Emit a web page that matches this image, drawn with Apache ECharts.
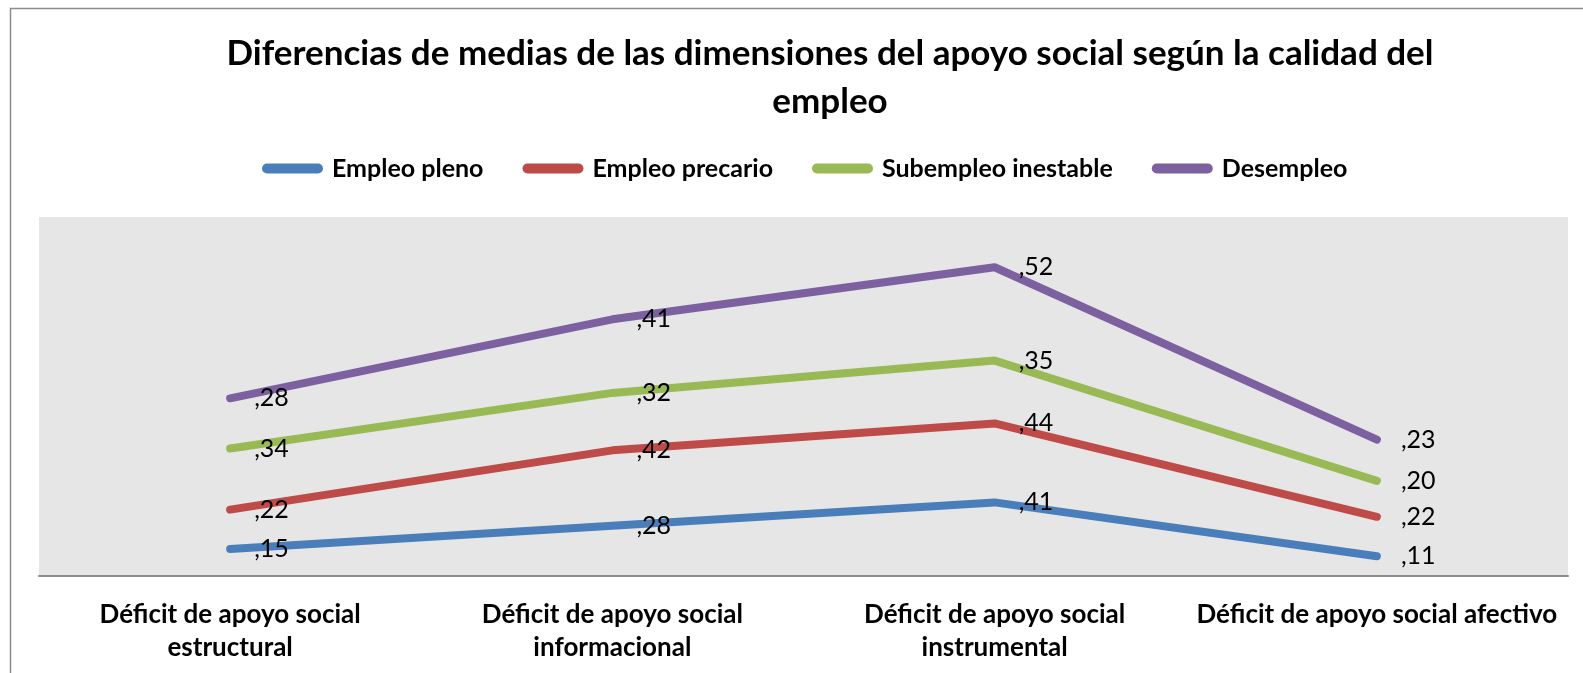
<!DOCTYPE html>
<html>
<head>
<meta charset="utf-8">
<script src="https://cdn.jsdelivr.net/npm/echarts@6/dist/echarts.min.js"></script>
<style>
html,body{margin:0;padding:0;background:#fff;}
#chart{width:1583px;height:673px;}
</style>
</head>
<body>
<div id="chart"></div>
<script>
const titleText = 'Diferencias de medias de las dimensiones del apoyo social según la calidad del\nempleo';
const categories = [
  'Déficit de apoyo social\nestructural',
  'Déficit de apoyo social\ninformacional',
  'Déficit de apoyo social\ninstrumental',
  'Déficit de apoyo social afectivo'
];
const seriesNames = ['Empleo pleno', 'Empleo precario', 'Subempleo inestable', 'Desempleo'];
const empleoPleno = [0.15, 0.28, 0.41, 0.11];
const empleoPrecario = [0.22, 0.42, 0.44, 0.22];
const subempleoInestable = [0.34, 0.32, 0.35, 0.20];
const desempleo = [0.28, 0.41, 0.52, 0.23];
const colors = ['#4a7ebb', '#be4b48', '#98b954', '#7d60a0'];

const FONT = 'Lato';
const seriesData = [empleoPleno, empleoPrecario, subempleoInestable, desempleo];

const chart = echarts.init(document.getElementById('chart'), null, {renderer: 'canvas'});
const fmt = v => ',' + v.toFixed(2).split('.')[1];

chart.setOption({
  animation: false,
  backgroundColor: '#ffffff',
  color: colors,
  title: {
    text: titleText,
    left: 825,
    textAlign: 'center',
    top: 25,
    textStyle: {fontFamily: FONT, fontWeight: 'bold', fontSize: 35, lineHeight: 48, color: '#000'}
  },
  legend: {
    left: 257,
    top: 151,
    itemWidth: 61,
    itemHeight: 10,
    itemGap: 39,
    icon: 'path://M5,0 H56 A5,5 0 0 1 56,10 H5 A5,5 0 0 1 5,0 Z',
    textStyle: {fontFamily: FONT, fontWeight: 'bold', fontSize: 25, color: '#000', padding: [0, 0, 0, 4]},
    data: seriesNames
  },
  graphic: [{
    type: 'rect',
    shape: {x: 10.5, y: 8.5, width: 1700, height: 800},
    style: {fill: 'none', stroke: '#8c8c8c', lineWidth: 1.5},
    silent: true, z: -1
  }],
  grid: {
    left: 39, right: 15, top: 217, bottom: 97,
    show: true, backgroundColor: '#e6e6e6', borderWidth: 0
  },
  xAxis: {
    type: 'category',
    data: categories,
    boundaryGap: true,
    axisLine: {show: true, lineStyle: {color: '#8c8c8c', width: 2}},
    axisTick: {show: false},
    axisLabel: {
      interval: 0, margin: 22, color: '#000',
      fontFamily: FONT, fontWeight: 'bold', fontSize: 26, lineHeight: 33
    }
  },
  yAxis: {
    type: 'value', min: 0, max: 2,
    axisLine: {show: false}, axisTick: {show: false},
    axisLabel: {show: false}, splitLine: {show: false}
  },
  series: seriesNames.map((name, i) => ({
    name: name,
    type: 'line',
    stack: 'total',
    data: seriesData[i],
    symbol: 'circle',
    symbolSize: 0,
    showSymbol: true,
    lineStyle: {width: 8, color: colors[i], cap: 'round', join: 'round'},
    itemStyle: {color: colors[i]},
    label: {
      show: true, position: 'right', distance: 24, offset: [0, 5],
      formatter: p => fmt(p.value),
      fontFamily: FONT, fontSize: 25, color: '#000'
    },
    labelLayout: {hideOverlap: false}
  }))
});
</script>
</body>
</html>
